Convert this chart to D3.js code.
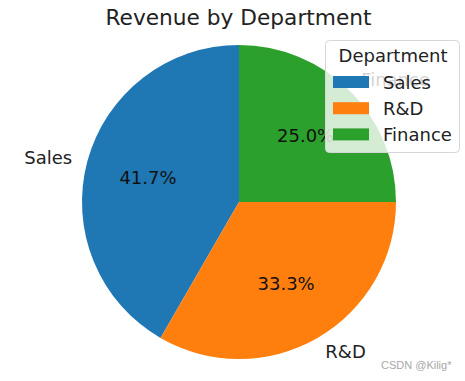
<!DOCTYPE html>
<html>
<head>
<meta charset="utf-8">
<script src="https://cdn.jsdelivr.net/npm/d3@7"></script>
<style>
  html, body { margin: 0; padding: 0; background: #fff; }
  svg { display: block; }
  text { font-family: "DejaVu Sans", sans-serif; }
</style>
</head>
<body>
<svg id="chart" width="465" height="381"></svg>
<script>
const categories = ["Sales", "R&D", "Finance"];
const values = [5, 4, 3];
const colors = ["#1f77b4", "#ff7f0e", "#2ca02c"];
const title = "Revenue by Department";
const legendTitle = "Department";
const watermark = "CSDN @Kilig*";

const svg = d3.select("#chart");
const W = 465, H = 381;
const cx = 239, cy = 202, R = 157;

svg.append("rect").attr("width", W).attr("height", H).attr("fill", "#fff");

svg.append("text")
  .attr("x", 238.5).attr("y", 25)
  .attr("text-anchor", "middle")
  .attr("font-size", 21.7)
  .attr("fill", "#222")
  .text(title);

const total = d3.sum(values);
// matplotlib: startangle 90, counterclockwise. d3 angles: 0 at top, clockwise.
const pie = d3.pie().sort(null).value(d => d)
  .startAngle(0).endAngle(-2 * Math.PI);
const arcs = pie(values);
const arc = d3.arc().innerRadius(0).outerRadius(R);

const g = svg.append("g").attr("transform", `translate(${cx},${cy})`);
g.selectAll("path").data(arcs).join("path")
  .attr("d", arc)
  .attr("fill", (d, i) => colors[i]);

const fmt = v => (v / total * 100).toFixed(1) + "%";

arcs.forEach((a, i) => {
  const mid = (a.startAngle + a.endAngle) / 2;
  const sx = Math.sin(mid), sy = -Math.cos(mid);
  g.append("text")
    .attr("x", 0.6 * R * sx).attr("y", 0.6 * R * sy)
    .attr("text-anchor", "middle")
    .attr("dominant-baseline", "central")
    .attr("font-size", 18)
    .attr("fill", "#111")
    .text(fmt(values[i]));
  g.append("text")
    .attr("x", 1.1 * R * sx).attr("y", 1.1 * R * sy)
    .attr("text-anchor", sx > 0 ? "start" : "end")
    .attr("dominant-baseline", "central")
    .attr("font-size", 18)
    .attr("fill", "#222")
    .text(categories[i]);
});

// Legend
const lg = svg.append("g");
lg.append("rect")
  .attr("x", 325.5).attr("y", 40.5)
  .attr("width", 134).attr("height", 112)
  .attr("rx", 4).attr("ry", 4)
  .attr("fill", "#fff").attr("fill-opacity", 0.8)
  .attr("stroke", "#d6d6d6").attr("stroke-width", 1);
lg.append("text")
  .attr("x", 393).attr("y", 62)
  .attr("text-anchor", "middle")
  .attr("font-size", 18)
  .attr("fill", "#222")
  .text(legendTitle);
categories.forEach((c, i) => {
  const y0 = 76 + i * 26.2;
  lg.append("rect")
    .attr("x", 333).attr("y", y0)
    .attr("width", 36).attr("height", 12)
    .attr("fill", colors[i]);
  lg.append("text")
    .attr("x", 383).attr("y", y0 + 6)
    .attr("dominant-baseline", "central")
    .attr("font-size", 18)
    .attr("fill", "#222")
    .text(c);
});

svg.append("text")
  .attr("x", 381).attr("y", 369)
  .style("font-family", "'Liberation Sans', Arial, sans-serif")
  .attr("font-size", 11)
  .attr("fill", "#a8a8a8")
  .text(watermark);
</script>
</body>
</html>
